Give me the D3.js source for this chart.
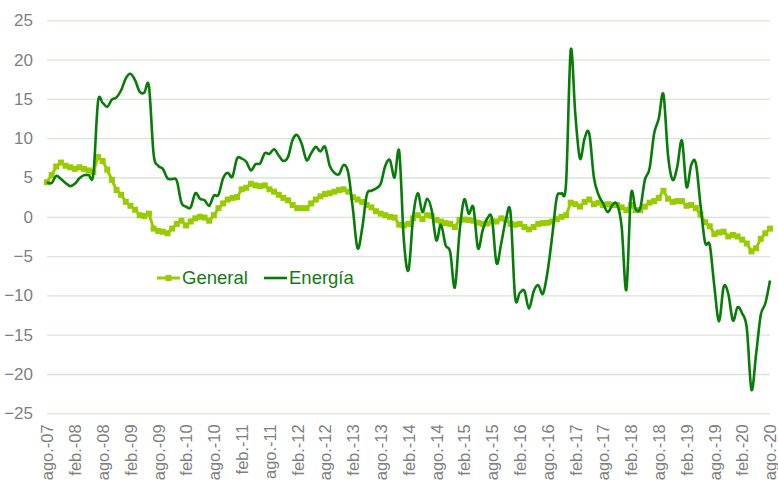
<!DOCTYPE html>
<html>
<head>
<meta charset="utf-8">
<script src="https://cdn.jsdelivr.net/npm/d3@7.9.0/dist/d3.min.js"></script>
<style>
  body { margin: 0; background: #fff; }
  svg { display: block; font-family: "Liberation Sans", Arial, sans-serif; }
</style>
</head>
<body>
<svg id="chart" width="778" height="480"></svg>
<script>
// tick labels on the x axis (every 6 months)
const tickLabels = [
  'ago.-07', 'feb.-08', 'ago.-08', 'feb.-09', 'ago.-09', 'feb.-10', 'ago.-10',
  'feb.-11', 'ago.-11', 'feb.-12', 'ago.-12', 'feb.-13', 'ago.-13', 'feb.-14',
  'ago.-14', 'feb.-15', 'ago.-15', 'feb.-16', 'ago.-16', 'feb.-17', 'ago.-17',
  'feb.-18', 'ago.-18', 'feb.-19', 'ago.-19', 'feb.-20', 'ago.-20'
];
const yTicks = [-25, -20, -15, -10, -5, 0, 5, 10, 15, 20, 25];

// monthly series, ago.-07 .. ago.-20
const general = [
  4.4, 5.3, 6.4, 6.9, 6.5, 6.3, 6.1, 6.3, 6.1, 5.9, 5.7, 7.6,
  7.1, 6.0, 4.7, 3.4, 2.8, 1.9, 1.4, 0.9, 0.2, 0.1, 0.4, -1.5,
  -1.8, -1.9, -2.1, -1.5, -0.9, -0.5, -1.1, -0.6, -0.2, 0.0, -0.1, -0.5,
  0.2, 1.1, 1.7, 2.2, 2.4, 2.5, 3.5, 3.7, 4.2, 4.0, 3.9, 4.0,
  3.5, 3.2, 2.8, 2.4, 2.1, 1.5, 1.1, 1.1, 1.1, 1.7, 2.2, 2.6,
  2.9, 3.0, 3.2, 3.4, 3.5, 3.2, 2.5, 2.2, 1.9, 1.5, 1.2, 0.7,
  0.4, 0.2, 0.0, -0.1, -1.0, -1.1, -0.9, -0.2, 0.2, -0.3, 0.2, 0.1,
  -0.4, -0.6, -0.8, -0.9, -1.3, -0.4, -0.35, -0.4, -0.5, -0.75, -0.9, -0.85,
  -0.6, -0.6, -0.2, -0.35, -0.9, -1.0, -0.9, -1.3, -1.6, -1.3, -0.9, -0.8,
  -0.75, -0.6, -0.3, 0.0, 0.2, 1.8, 1.6, 1.3, 1.9, 2.2, 1.6, 1.8,
  1.5, 1.6, 1.5, 1.5, 1.2, 0.85, 1.5, 0.85, 0.85, 1.3, 1.8, 2.0,
  2.4, 3.3, 2.3, 1.9, 2.0, 2.0, 1.4, 1.5, 1.1, 0.3, -0.7, -1.2,
  -2.2, -2.0, -1.9, -2.5, -2.3, -2.5, -2.9, -3.4, -4.4, -4.0, -2.8, -2.1,
  -1.5
];
const energia = [
  4.4, 4.3, 5.2, 4.8, 4.3, 3.9, 4.2, 4.9, 5.3, 5.3, 5.4, 14.6,
  14.5, 14.0, 14.9, 15.2, 16.1, 17.6, 18.2, 17.4, 15.9, 15.8, 16.6, 8.0,
  6.5, 6.1, 4.9, 4.8, 4.6, 1.8, 1.3, 1.2, 3.0, 2.3, 2.1, 1.4,
  2.7, 2.8, 4.9, 5.6, 5.1, 7.4, 7.4, 7.0, 5.9, 6.7, 6.8, 8.1,
  8.0, 8.6, 7.8, 7.1, 7.6, 9.8, 10.4, 9.2, 7.2, 8.1, 8.9, 8.3,
  8.9, 6.5, 5.6, 5.4, 6.6, 5.6, 1.0, -4.0, -1.5, 2.8, 3.3, 3.6,
  4.2, 6.5, 7.2, 5.0, 8.3, -3.0, -6.8, 0.0, 3.0, 0.6, 2.3, 0.85,
  -3.0, -1.0, -3.6, -4.5, -9.0, -2.0, 2.2, 0.4, 1.2, -4.0, -1.7, -0.2,
  -0.2, -5.9, -3.4, -0.4, 0.6, -10.2, -9.7, -9.4, -11.7, -9.5, -8.7, -9.8,
  -7.0, -2.5, 2.5, 3.0, 4.3, 21.2, 13.0, 7.4, 10.0, 10.6, 5.0, 2.8,
  1.7, 0.6, 1.5, 1.6, -1.3, -9.3, 2.8, 1.0, 1.1, 4.7, 6.1, 10.6,
  12.5, 15.6, 7.8, 4.7, 6.4, 9.7, 3.8, 6.6, 6.8, 1.5, -3.3, -3.6,
  -8.9, -13.3, -8.9, -9.8, -13.2, -11.5, -12.3, -14.2, -22.0, -17.5, -12.5, -11.0,
  -8.1
];

// month categories built from the month names
const monthNames = ['ene.', 'feb.', 'mar.', 'abr.', 'may.', 'jun.', 'jul.', 'ago.', 'sep.', 'oct.', 'nov.', 'dic.'];
const categories = general.map((_, i) => {
  const m = (7 + i) % 12;
  const yr = 7 + Math.floor((7 + i) / 12);
  return `${monthNames[m]}-${String(yr).padStart(2, '0')}`;
});

const plotLeft = 47, plotRight = 770, plotTop = 20.3, plotBottom = 413.3;
const svg = d3.select('#chart');

const x = d3.scalePoint().domain(categories).range([plotLeft, plotRight]);
const y = d3.scaleLinear().domain([-25, 25]).range([plotBottom, plotTop]);

// y axis + grid
const yAxis = svg.append('g')
  .attr('transform', `translate(${plotLeft},0)`)
  .call(d3.axisLeft(y).tickValues(yTicks).tickSize(-(plotRight - plotLeft)).tickPadding(14));
yAxis.select('.domain').remove();
yAxis.selectAll('line').attr('stroke', '#d5e6d5').attr('stroke-width', 1.3);
yAxis.selectAll('text')
  .attr('fill', '#7f7f7f')
  .style('font-size', '17px');

// x axis labels
const xAxis = svg.append('g')
  .attr('transform', `translate(0,${plotBottom})`)
  .call(d3.axisBottom(x).tickValues(tickLabels).tickSize(0));
xAxis.select('.domain').remove();
xAxis.selectAll('text')
  .attr('transform', 'rotate(-90)')
  .attr('x', -11)
  .attr('y', 0)
  .attr('dy', '0.35em')
  .style('text-anchor', 'end')
  .style('font-size', '16.5px')
  .attr('fill', '#7f7f7f');

const genColor = '#99cc00';
const enColor = '#087c08';

// General
const lineGen = d3.line()
  .x((d, i) => x(categories[i]))
  .y(d => y(d));
svg.append('path')
  .datum(general)
  .attr('d', lineGen)
  .attr('fill', 'none')
  .attr('stroke', genColor)
  .attr('stroke-width', 3);
svg.append('g').selectAll('rect')
  .data(general)
  .join('rect')
  .attr('x', (d, i) => x(categories[i]) - 3)
  .attr('y', d => y(d) - 3)
  .attr('width', 6)
  .attr('height', 6)
  .attr('fill', genColor);

// Energía (smoothed)
const lineEn = d3.line()
  .x((d, i) => x(categories[i]))
  .y(d => y(d))
  .curve(d3.curveCardinal.tension(0));
svg.append('path')
  .datum(energia)
  .attr('d', lineEn)
  .attr('fill', 'none')
  .attr('stroke', enColor)
  .attr('stroke-width', 2.6)
  .attr('stroke-linejoin', 'round');

// legend
const legY = 278;
const leg = svg.append('g');
leg.append('line').attr('x1', 157).attr('x2', 180).attr('y1', legY).attr('y2', legY)
  .attr('stroke', genColor).attr('stroke-width', 3);
leg.append('rect').attr('x', 165.5).attr('y', legY - 3).attr('width', 6).attr('height', 6).attr('fill', genColor);
leg.append('text').attr('x', 182).attr('y', legY).attr('dy', '0.35em')
  .style('font-size', '18.5px').attr('fill', '#127a12').text('General');
leg.append('line').attr('x1', 264).attr('x2', 287).attr('y1', legY).attr('y2', legY)
  .attr('stroke', enColor).attr('stroke-width', 2.6);
leg.append('text').attr('x', 289).attr('y', legY).attr('dy', '0.35em')
  .style('font-size', '18.5px').attr('fill', '#127a12').text('Energía');
</script>
</body>
</html>
